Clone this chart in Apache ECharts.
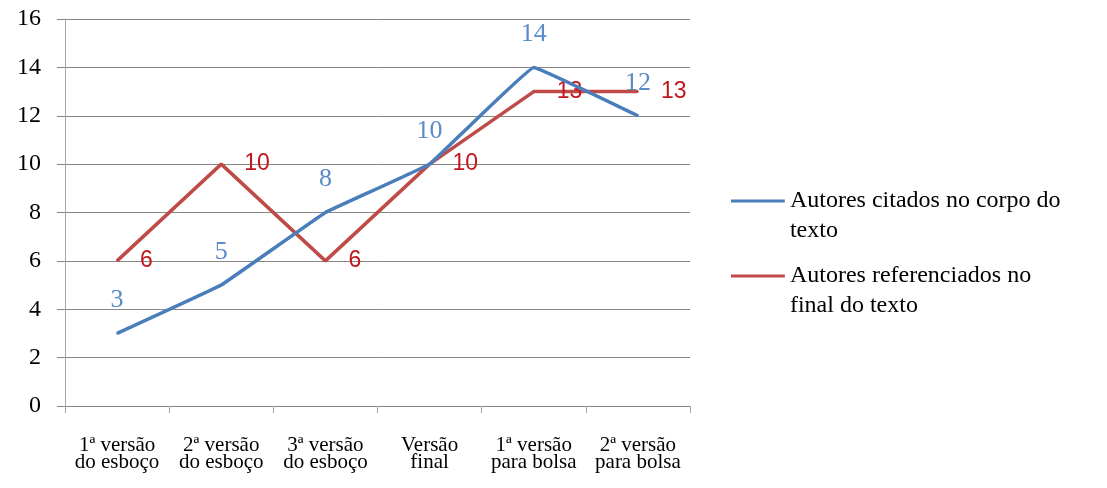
<!DOCTYPE html>
<html>
<head>
<meta charset="utf-8">
<script src="https://cdn.jsdelivr.net/npm/echarts@6/dist/echarts.min.js"></script>
<style>html,body{margin:0;padding:0;background:#fff}#c{width:1107px;height:488px}</style>
</head>
<body>
<div id="c"></div>
<script>
const categories = ["1ª versão\ndo esboço", "2ª versão\ndo esboço", "3ª versão\ndo esboço", "Versão\nfinal", "1ª versão\npara bolsa", "2ª versão\npara bolsa"];
const citados = [3, 5, 8, 10, 14, 12];
const referenciados = [6, 10, 6, 10, 13, 13];
const seriesNames = ["Autores citados no corpo do\ntexto", "Autores referenciados no\nfinal do texto"];

const chart = echarts.init(document.getElementById('c'), null, {renderer: 'canvas'});
const legendIcon = 'path://M0,0 L54,0 L54,3 L0,3 Z M0,33 L0.1,33 L0.1,33.1 L0,33.1 Z';
chart.setOption({
  animation: false,
  backgroundColor: '#ffffff',
  grid: {left: 65, right: 417, top: 19, bottom: 82, containLabel: false},
  legend: {
    orient: 'vertical',
    left: 731, top: 186,
    padding: 0,
    itemGap: 15,
    itemWidth: 54, itemHeight: 33,
    icon: legendIcon,
    itemStyle: {borderWidth: 0},
    textStyle: {fontFamily: 'Liberation Serif', fontSize: 24, lineHeight: 30, color: '#000'},
    data: seriesNames
  },
  xAxis: {
    type: 'category',
    data: categories,
    boundaryGap: true,
    axisLine: {lineStyle: {color: '#868686', width: 1}},
    axisTick: {show: true, length: 7, alignWithLabel: false, lineStyle: {color: '#A6A6A6'}},
    axisLabel: {margin: 31, fontFamily: 'Liberation Serif', fontSize: 21, lineHeight: 17, color: '#000', interval: 0},
    splitLine: {show: false}
  },
  yAxis: {
    type: 'value',
    min: 0, max: 16, interval: 2,
    axisLine: {show: true, lineStyle: {color: '#A6A6A6', width: 1}},
    axisTick: {show: true, length: 8, lineStyle: {color: '#868686'}},
    axisLabel: {margin: 24, fontFamily: 'Liberation Serif', fontSize: 24, color: '#000'},
    splitLine: {show: true, lineStyle: {color: '#868686', width: 1}}
  },
  series: [
    {
      name: seriesNames[0],
      type: 'line',
      data: citados,
      smooth: 0.05,
      symbol: 'circle',
      symbolSize: 2,
      showSymbol: true,
      color: '#4A7EBB',
      itemStyle: {color: '#4A7EBB', borderWidth: 0},
      lineStyle: {color: '#4A7EBB', width: 3.5},
      label: {show: true, position: 'top', distance: 19, fontFamily: 'Liberation Serif', fontSize: 26, color: '#5A8AC8'},
      labelLayout: {hideOverlap: false},
      z: 3
    },
    {
      name: seriesNames[1],
      type: 'line',
      data: referenciados,
      symbol: 'circle',
      symbolSize: 2,
      showSymbol: true,
      color: '#BE4B48',
      itemStyle: {color: '#BE4B48', borderWidth: 0},
      lineStyle: {color: '#BE4B48', width: 3.5},
      label: {show: true, position: 'right', distance: 22, offset: [0, 2], fontFamily: 'Liberation Sans', fontSize: 23, color: '#C0161C'},
      labelLayout: {hideOverlap: false},
      z: 2
    }
  ]
});
</script>
</body>
</html>
